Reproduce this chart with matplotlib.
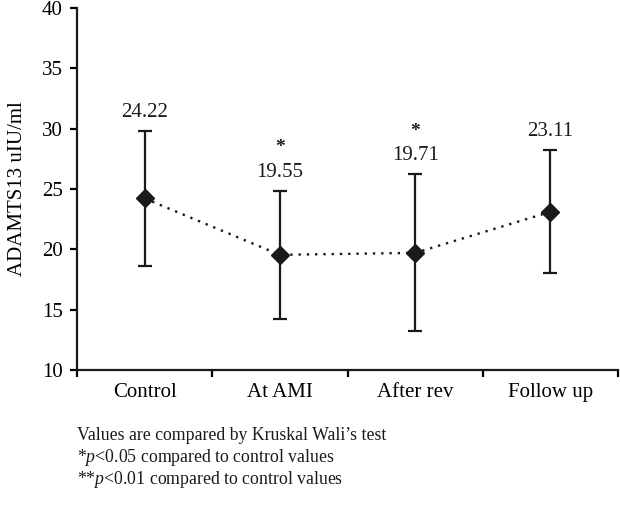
import matplotlib
matplotlib.use('Agg')
import matplotlib.pyplot as plt

categories = ['Control', 'At AMI', 'After rev', 'Follow up']
means = [24.22, 19.55, 19.71, 23.11]
errors = [5.6, 5.3, 6.5, 5.1]
marks = ['', '*', '*', '']
notes = ["Values are compared by Kruskal Wali\u2019s test",
         "*$p$<0.05 compared to control values",
         "**$p$<0.01 compared to control values"]


def main():
    plt.rcParams['font.family'] = ['Liberation Serif', 'DejaVu Serif']
    plt.rcParams['mathtext.fontset'] = 'custom'
    plt.rcParams['mathtext.it'] = 'Liberation Serif:italic'
    plt.rcParams['mathtext.rm'] = 'Liberation Serif'

    fig = plt.figure(figsize=(6.2, 5.25), dpi=100)
    ax = fig.add_axes([0.124, 0.295, 0.873, 0.69])

    x = list(range(len(categories)))
    ax.errorbar(x, means, yerr=errors, fmt='none', ecolor='#1a1a1a',
                elinewidth=1.6, capsize=5, capthick=1.6, zorder=2)
    ax.plot(x, means, linestyle=(0, (1, 2.5)), color='#1a1a1a', linewidth=1.7,
            marker='D', markersize=9, markerfacecolor='#1a1a1a',
            markeredgecolor='#1a1a1a', zorder=3)

    for xi, m, e, s in zip(x, means, errors, marks):
        top = m + e
        ax.text(xi, top + 0.75, f'{m:.2f}', ha='center', va='bottom',
                fontsize=15, color='#1a1a1a')
        if s:
            ax.text(xi, top + 2.85, s, ha='center', va='bottom',
                    fontsize=14, color='#1a1a1a', fontweight='bold')

    ax.set_ylim(10, 40)
    ax.set_yticks(range(10, 41, 5))
    ax.set_xlim(-0.5, len(categories) - 0.5)
    ax.set_xticks(x)
    ax.set_xticklabels(categories)
    ax.set_xticks([i - 0.5 for i in range(len(categories) + 1)], minor=True)
    ax.tick_params(axis='x', which='major', length=0, pad=9, labelsize=15)
    ax.tick_params(axis='x', which='minor', length=5, width=1.6, direction='out')
    ax.tick_params(axis='y', length=5, width=1.6, labelsize=15, pad=5)
    ax.set_ylabel('ADAMTS13 uIU/ml', fontsize=15, labelpad=11)

    for side in ['top', 'right']:
        ax.spines[side].set_visible(False)
    for side in ['left', 'bottom']:
        ax.spines[side].set_linewidth(1.6)
        ax.spines[side].set_color('#1a1a1a')

    for i, line in enumerate(notes):
        fig.text(0.124, 0.171 - i * 0.042, line, fontsize=12.8,
                 color='#1a1a1a', va='center')

    fig.savefig('out.png', dpi=100)


if __name__ == '__main__':
    main()
